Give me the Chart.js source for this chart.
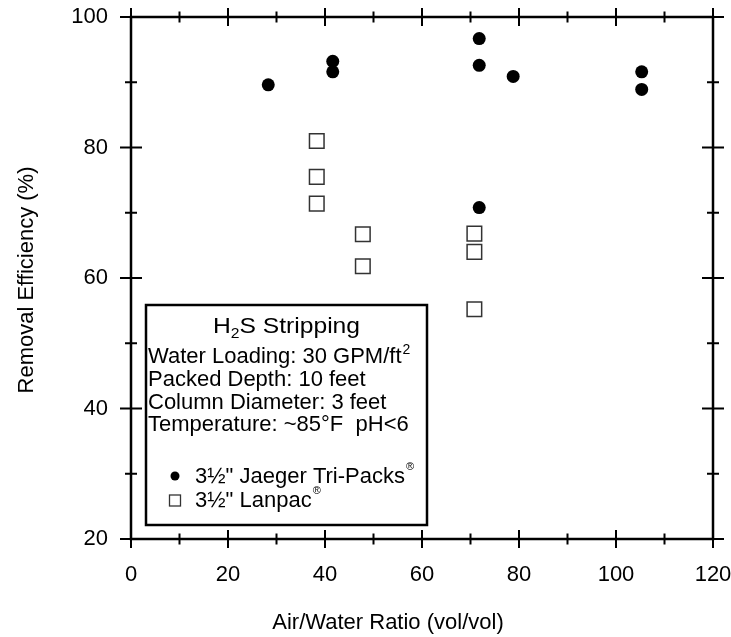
<!DOCTYPE html>
<html>
<head>
<meta charset="utf-8">
<script src="https://cdn.jsdelivr.net/npm/chart.js@4"></script>
<style>
  html, body { margin: 0; padding: 0; background: #fff; }
  #wrap { width: 731px; height: 637px; }
</style>
</head>
<body>
<div id="wrap"><canvas id="chart"></canvas></div>
<script>
// air/water ratio vs removal efficiency
const jaegerX = [28.3, 41.6, 41.6, 71.8, 71.8, 71.8, 78.8, 105.3, 105.3];
const jaegerY = [89.6, 93.2, 91.6, 96.7, 92.6, 70.8, 90.9, 91.6, 88.9];
const lanpacX = [38.3, 38.3, 38.3, 47.8, 47.8, 70.8, 70.8, 70.8];
const lanpacY = [81.0, 75.5, 71.4, 66.7, 61.8, 66.8, 64.0, 55.2];

const xMajorTicks = [0, 20, 40, 60, 80, 100, 120];
const yMajorTicks = [20, 40, 60, 80, 100];

const FONT = '"Liberation Sans", Arial, Helvetica, sans-serif';

const toPoints = (xs, ys) => xs.map((x, i) => ({ x: x, y: ys[i] }));

function drawText(ctx, s, x, y, size, sx) {
    sx = sx || 1;
    ctx.font = size + 'px ' + FONT;
    ctx.save();
    ctx.translate(x, y);
    ctx.scale(sx, 1);
    ctx.fillText(s, 0, 0);
    ctx.restore();
    return ctx.measureText(s).width * sx;
}

// keep the plot box where the figure has it, labels may hang over the edges
function fixScale(size) {
    return s => {
        if (s.isHorizontal()) s.height = size; else s.width = size;
        s.paddingTop = 0;
        s.paddingBottom = 0;
        s.paddingLeft = 0;
        s.paddingRight = 0;
    };
}

const framePlugin = {
    id: 'frame',
    afterDraw(chart) {
        const ctx = chart.ctx;
        const area = chart.chartArea;
        const xs = chart.scales.x;
        const ys = chart.scales.y;

        ctx.save();
        ctx.strokeStyle = '#000';
        ctx.fillStyle = '#000';

        // box round the plot
        ctx.lineWidth = 2.5;
        ctx.strokeRect(area.left, area.top, area.right - area.left, area.bottom - area.top);

        // ticks cross the axis on all four sides
        ctx.lineWidth = 2;
        ctx.beginPath();
        xs.ticks.forEach(t => {
            const px = xs.getPixelForValue(t.value);
            const len = xMajorTicks.includes(t.value) ? 9 : 5.5;
            ctx.moveTo(px, area.bottom - len);
            ctx.lineTo(px, area.bottom + len);
            ctx.moveTo(px, area.top - len);
            ctx.lineTo(px, area.top + len);
        });
        ys.ticks.forEach(t => {
            const py = ys.getPixelForValue(t.value);
            const len = yMajorTicks.includes(t.value) ? 11 : 6;
            ctx.moveTo(area.left - len, py);
            ctx.lineTo(area.left + len, py);
            ctx.moveTo(area.right - len, py);
            ctx.lineTo(area.right + len, py);
        });
        ctx.stroke();

        // axis titles
        ctx.textBaseline = 'alphabetic';
        ctx.textAlign = 'center';
        drawText(ctx, 'Air/Water Ratio (vol/vol)', 388, 629, 22);
        ctx.save();
        ctx.translate(33, 280);
        ctx.rotate(-Math.PI / 2);
        drawText(ctx, 'Removal Efficiency (%)', 0, 0, 22);
        ctx.restore();

        // info / legend box
        const bx = 146, by = 305, bw = 281, bh = 220;
        ctx.fillStyle = '#fff';
        ctx.fillRect(bx, by, bw, bh);
        ctx.lineWidth = 2.5;
        ctx.strokeRect(bx, by, bw, bh);
        ctx.fillStyle = '#000';

        ctx.textAlign = 'left';
        // H2S Stripping, centred
        ctx.font = '22px ' + FONT;
        const sx = 1.12;
        const wH = ctx.measureText('H').width * sx;
        const wRest = ctx.measureText('S Stripping').width * sx;
        ctx.font = '14px ' + FONT;
        const w2 = ctx.measureText('2').width * sx;
        let tx = bx + bw / 2 - (wH + w2 + wRest) / 2;
        tx += drawText(ctx, 'H', tx, 333, 22, sx);
        tx += drawText(ctx, '2', tx, 338, 14, sx);
        drawText(ctx, 'S Stripping', tx, 333, 22, sx);

        const left = 148;
        let w = drawText(ctx, 'Water Loading: 30 GPM/ft', left, 363, 22);
        drawText(ctx, '2', left + w + 1, 354, 14);
        drawText(ctx, 'Packed Depth: 10 feet', left, 386, 22);
        drawText(ctx, 'Column Diameter: 3 feet', left, 409, 22);
        drawText(ctx, 'Temperature: ~85°F  pH<6', left, 431, 22);

        // legend symbols
        ctx.beginPath();
        ctx.arc(175, 476, 4.5, 0, Math.PI * 2);
        ctx.fill();
        ctx.lineWidth = 1.3;
        ctx.strokeStyle = '#333';
        ctx.strokeRect(169.5, 495, 11, 11);

        w = drawText(ctx, '3½" Jaeger Tri-Packs', 195, 483, 22);
        drawText(ctx, '®', 195 + w + 1, 470, 11);
        w = drawText(ctx, '3½" Lanpac', 195, 507, 22);
        drawText(ctx, '®', 195 + w + 1, 494, 11);

        ctx.restore();
    }
};

new Chart(document.getElementById('chart'), {
    type: 'scatter',
    data: {
        datasets: [{
            label: '3½" Jaeger Tri-Packs',
            data: toPoints(jaegerX, jaegerY),
            pointStyle: 'circle',
            pointRadius: 6.5,
            backgroundColor: '#000',
            borderColor: '#000',
            borderWidth: 0
        }, {
            label: '3½" Lanpac',
            data: toPoints(lanpacX, lanpacY),
            pointStyle: 'rect',
            pointRadius: 10.3,
            backgroundColor: '#fff',
            borderColor: '#333',
            borderWidth: 1.5
        }]
    },
    options: {
        responsive: true,
        maintainAspectRatio: false,
        animation: false,
        devicePixelRatio: 1,
        layout: { padding: { left: 0, right: 18, top: 17, bottom: 0 } },
        plugins: {
            legend: { display: false },
            tooltip: { enabled: false }
        },
        scales: {
            x: {
                type: 'linear',
                min: 0,
                max: 120,
                afterFit: fixScale(98),
                grid: { display: false, drawTicks: false },
                border: { display: false },
                ticks: {
                    stepSize: 10,
                    autoSkip: false,
                    maxRotation: 0,
                    padding: 23,
                    color: '#000',
                    font: { family: FONT, size: 22 },
                    callback: v => xMajorTicks.includes(v) ? String(v) : ''
                }
            },
            y: {
                type: 'linear',
                min: 20,
                max: 100,
                afterFit: fixScale(131),
                grid: { display: false, drawTicks: false },
                border: { display: false },
                ticks: {
                    stepSize: 10,
                    autoSkip: false,
                    padding: 23,
                    color: '#000',
                    font: { family: FONT, size: 22 },
                    callback: v => yMajorTicks.includes(v) ? String(v) : ''
                }
            }
        }
    },
    plugins: [framePlugin]
});
</script>
</body>
</html>
